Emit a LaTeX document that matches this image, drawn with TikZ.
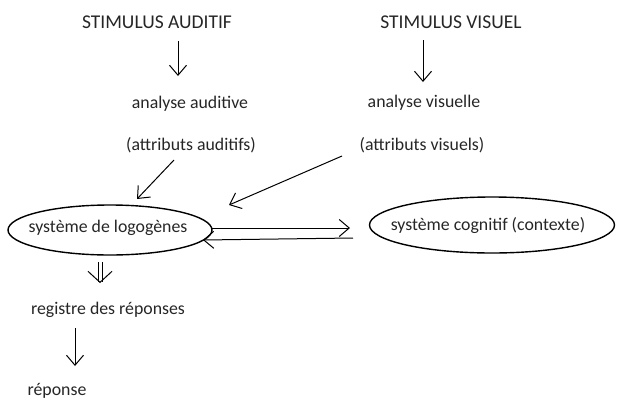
\documentclass[tikz,border=0pt]{standalone}
\usepackage{fontspec}
\setmainfont{Carlito}
\usetikzlibrary{
    shapes.geometric,
    arrows.meta,
    positioning,
    calc
}

\begin{document}
\begin{tikzpicture}[x=1pt, y=-1pt]
            \useasboundingbox (0,0) rectangle (627,408);
            \tikzset{
                lbl/.style={font=\fontsize{17.8}{20}\selectfont, inner sep=1pt, text=black!85},
                caps/.style={lbl, font=\fontsize{19.5}{22}\selectfont},
                arr/.style={-{Straight Barb[length=10pt, width=17pt]}, line width=1pt},
                blob/.style={draw, ellipse, line width=1.4pt, inner sep=0pt}
            }
            % Stimuli
            \node[caps] (sa) at (157,22) {STIMULUS AUDITIF};
            \node[caps] (sv) at (451,22) {STIMULUS VISUEL};
            
            % Analyse
            \node[lbl] (aa) at (190,104) {analyse auditive};
            \node[lbl] (av) at (424,103) {analyse visuelle};
            \node[lbl] (ta) at (191,145) {(attributs auditifs)};
            \node[lbl] (tv) at (422,145) {(attributs visuels)};
            
            % Systems
            \node[blob, minimum width=204pt, minimum height=50pt] (lg) at (110,230) {};
            \node[lbl] at (108,228) {système de logogènes};
            \node[blob, minimum width=245pt, minimum height=56pt] (cg) at (492,225) {};
            \node[lbl] at (488,226) {système cognitif (contexte)};
            
            % Output
            \node[lbl] (rg) at (108,310) {registre des réponses};
            \node[lbl] (rp) at (57,391) {réponse};
            
            % Arrows
            \draw[arr] ($(sa)+(21,19)$) -- ($(aa)+(-12,-28)$);
            \draw[arr] ($(sv)+(-28,18)$) -- ($(av)+(-1,-21)$);
            \draw[arr] ($(ta)+(-17,15)$) -- ($(lg)+(27,-31)$);
            \draw[arr] ($(tv)+(-80,11)$) -- ($(lg)+(119,-25)$);
            \draw[arr] ($(lg)+(102,-2)$) -- ($(cg)+(-142,3)$);
            \draw[arr] ($(cg)+(-139,13)$) -- ($(lg)+(93,10)$);
            \draw[-{Straight Barb[length=11pt, width=24pt, line width=1pt]}, double, double distance=3pt, line width=1pt]
                ($(lg)+(-10,32)$) -- ($(rg)+(-8,-27)$);
            \draw[arr] ($(rg)+(-33,18)$) -- ($(rp)+(18,-25)$);
        \end{tikzpicture}
\end{document}
